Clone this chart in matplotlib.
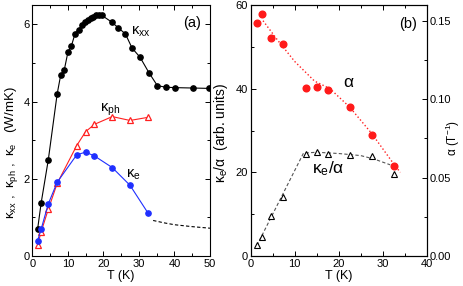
import numpy as np
import matplotlib
matplotlib.use("Agg")
import matplotlib.pyplot as plt
from matplotlib.ticker import MultipleLocator, FormatStrFormatter

plt.rcParams['font.family'] = ['Liberation Sans', 'DejaVu Sans']
plt.rcParams['mathtext.fontset'] = 'custom'
plt.rcParams['mathtext.rm'] = 'Liberation Sans'
plt.rcParams['mathtext.it'] = 'Liberation Sans:italic'
plt.rcParams['font.size'] = 8

# panel (a): thermal conductivities
T_xx = [1.5, 2.5, 4.5, 7, 8, 9, 10, 11, 12, 13, 14, 14.8, 15.7, 16.5, 17.2, 18, 18.9, 19.6,
        22.3, 24.2, 26.2, 28.1, 30.3, 32.8, 35.2, 37.7, 40.2, 45.2, 49.8]
k_xx = [0.70, 1.38, 2.49, 4.20, 4.69, 4.82, 5.27, 5.44, 5.75, 5.86, 5.99, 6.05, 6.10, 6.16,
        6.20, 6.25, 6.25, 6.23, 6.06, 5.91, 5.75, 5.38, 5.15, 4.75, 4.41, 4.37, 4.36, 4.35, 4.34]

T_e = [1.5, 2.5, 4.5, 7, 12.5, 15, 17.5, 22.5, 27.5, 32.5]
k_ph = [0.29, 0.63, 1.21, 1.88, 2.86, 3.22, 3.41, 3.61, 3.51, 3.59]
k_e = [0.40, 0.70, 1.35, 1.91, 2.62, 2.69, 2.59, 2.29, 1.83, 1.12]

# extrapolated electronic part (dashed)
T_ext = [34, 37, 40, 45, 50]
k_ext = [0.92, 0.86, 0.81, 0.76, 0.72]

# panel (b): Hall angle alpha and ke/alpha
T_b = [1.4, 2.5, 4.5, 7.3, 12.5, 15, 17.5, 22.5, 27.5, 32.5]
alpha = [0.1488, 0.1544, 0.1387, 0.1352, 0.1072, 0.1075, 0.1059, 0.0947, 0.0771, 0.0576]
ke_alpha = [2.6, 4.5, 9.6, 14.0, 24.4, 24.9, 24.5, 24.1, 23.9, 19.6]

T_afit = [2.8, 6, 10, 14.5, 18, 22.5, 27.5, 32.5, 34]
alpha_fit = [0.150, 0.138, 0.124, 0.1115, 0.1067, 0.0949, 0.0781, 0.0587, 0.0533]
T_kfit = [1.4, 12, 15, 20, 25, 28, 31.7]
ke_alpha_fit = [2.5, 24.6, 24.8, 24.5, 24.0, 23.2, 21.8]

fig = plt.figure(figsize=(4.63, 2.86), dpi=100)
ax1 = fig.add_axes([32.3 / 463, 30 / 286, 177.7 / 463, 251 / 286])
ax2 = fig.add_axes([250.7 / 463, 30 / 286, 176 / 463, 251 / 286])
ax3 = ax2.twinx()

# (a)
ax1.plot(T_xx, k_xx, '-o', color='black', lw=0.8, ms=3.8)
ax1.plot(T_e, k_ph, '-^', color='#ff2020', mfc='white', mec='#ff2020', lw=0.8, ms=4.2, mew=0.9)
ax1.plot(T_e, k_e, '-o', color='#1f2fff', lw=0.8, ms=3.8)
ax1.plot(T_ext, k_ext, '--', color='black', lw=0.8, dashes=(3, 2))

ax1.set_xlim(0, 50)
ax1.set_ylim(0, 6.5)
ax1.xaxis.set_major_locator(MultipleLocator(10))
ax1.xaxis.set_minor_locator(MultipleLocator(5))
ax1.yaxis.set_major_locator(MultipleLocator(2))
ax1.yaxis.set_minor_locator(MultipleLocator(1))
ax1.set_xlabel('T (K)', fontsize=9, labelpad=1)
ax1.set_ylabel('κ$_{\\mathrm{xx}}$ ,  κ$_{\\mathrm{ph}}$ ,  κ$_{\\mathrm{e}}$   (W/mK)', fontsize=9.5)
ax1.yaxis.set_label_coords(-0.072, 0.41)

ax1.text(44.9, 6.03, '(a)', fontsize=10.5, ha='center', va='center')
ax1.text(30.5, 5.8, 'κ$_{\\mathrm{xx}}$', fontsize=10.5, ha='center', va='center')
ax1.text(22, 3.78, 'κ$_{\\mathrm{ph}}$', fontsize=10.5, ha='center', va='center')
ax1.text(28.5, 2.1, 'κ$_{\\mathrm{e}}$', fontsize=10.5, ha='center', va='center')

# (b)
ax3.plot(T_afit, alpha_fit, ':', color='#ff2020', lw=1.0)
ax3.plot(T_b, alpha, 'o', color='#ff1a1a', ms=4.8)
ax2.plot(T_kfit, ke_alpha_fit, '--', color='#555555', lw=0.8, dashes=(3, 2))
ax2.plot(T_b, ke_alpha, '^', color='black', mfc='white', ms=4.2, mew=0.8)

ax2.set_xlim(0, 40)
ax2.set_ylim(0, 60)
ax3.set_ylim(0, 0.16)
ax2.xaxis.set_major_locator(MultipleLocator(10))
ax2.xaxis.set_minor_locator(MultipleLocator(5))
ax2.yaxis.set_major_locator(MultipleLocator(20))
ax2.yaxis.set_minor_locator(MultipleLocator(10))
ax3.yaxis.set_major_locator(MultipleLocator(0.05))
ax3.yaxis.set_minor_locator(MultipleLocator(0.025))
ax3.yaxis.set_major_formatter(FormatStrFormatter('%.2f'))
ax2.set_xlabel('T (K)', fontsize=9, labelpad=1)
ax2.set_ylabel('κ$_{\\mathrm{e}}$/α  (arb. units)', fontsize=10)
ax2.yaxis.set_label_coords(-0.115, 0.49)
ax3.set_ylabel('α (T$^{-1}$)', fontsize=8.5, rotation=90)
ax3.yaxis.set_label_coords(1.095, 0.47)

ax2.text(35.8, 55.4, '(b)', fontsize=10.5, ha='center', va='center')
ax2.text(22.2, 41.4, 'α', fontsize=12.5, ha='center', va='center')
ax2.text(17.7, 21.0, 'κ$_{\\mathrm{e}}$/α', fontsize=12.5, ha='center', va='center')

for ax in (ax1, ax2):
    ax.tick_params(which='both', direction='in', top=True, labelsize=8, pad=2)
    ax.tick_params(which='major', length=3.5, width=0.7)
    ax.tick_params(which='minor', length=2, width=0.7)
ax1.tick_params(which='both', right=True)
ax3.tick_params(which='both', direction='in', labelsize=8, pad=2)
ax3.tick_params(which='major', length=3.5, width=0.7)
ax3.tick_params(which='minor', length=2, width=0.7)
for ax in (ax1, ax2, ax3):
    for s in ax.spines.values():
        s.set_linewidth(0.8)

fig.savefig('out.png', dpi=100)
